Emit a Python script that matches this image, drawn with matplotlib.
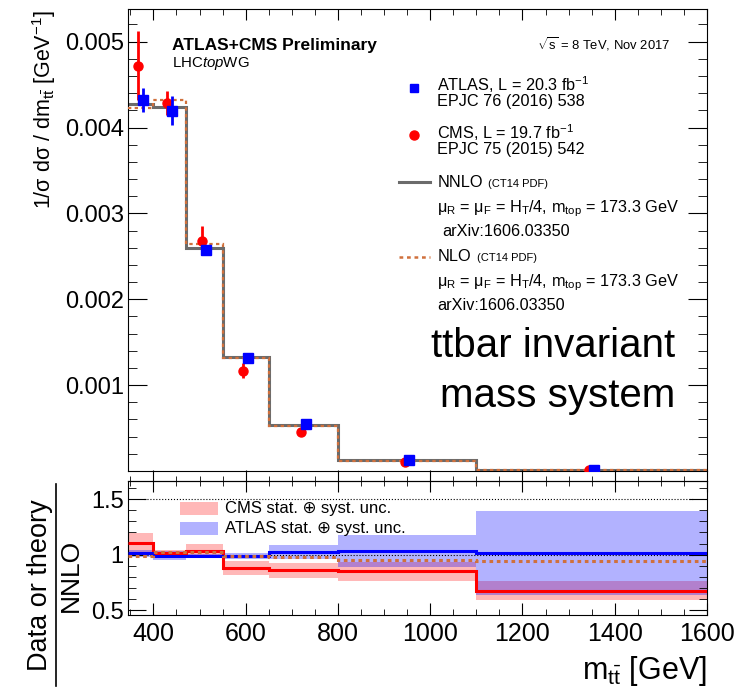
import matplotlib
matplotlib.use('Agg')
import matplotlib.pyplot as plt
import numpy as np
from matplotlib.ticker import MultipleLocator, FixedLocator
from matplotlib.lines import Line2D
from matplotlib.patches import Rectangle

plt.rcParams['font.family'] = ['Liberation Sans', 'DejaVu Sans']
plt.rcParams['mathtext.fontset'] = 'custom'
plt.rcParams['mathtext.rm'] = 'Liberation Sans'
plt.rcParams['mathtext.it'] = 'Liberation Sans:italic'
plt.rcParams['mathtext.bf'] = 'Liberation Sans:bold'
plt.rcParams['axes.linewidth'] = 0.8

# bin edges in m_tt [GeV]
edges = [345, 400, 470, 550, 650, 800, 1100, 1600]

# theory predictions, 1/sigma dsigma/dm [GeV^-1]
nnlo = np.array([4.27, 4.24, 2.595, 1.325, 0.533, 0.128, 0.012]) * 1e-3
nlo = np.array([4.23, 4.325, 2.647, 1.312, 0.522, 0.1222, 0.01135]) * 1e-3

# ATLAS data
atlas_x = [377.5, 440, 515, 605, 730, 955, 1355]
atlas = np.array([4.315, 4.198, 2.569, 1.312, 0.5437, 0.1318, 0.01218]) * 1e-3
atlas_err = np.array([0.14, 0.17, 0.052, 0.035, 0.0336, 0.0186, 0.0045]) * 1e-3

# CMS data
cms_x = [367.5, 430, 505, 595, 720, 945, 1345]
cms = np.array([4.72, 4.29, 2.68, 1.166, 0.458, 0.1088, 0.00811]) * 1e-3
cms_err = np.array([0.40, 0.14, 0.17, 0.088, 0.036, 0.0109, 0.001]) * 1e-3

gray = '#6b6b6b'
orange = '#d0703c'

r_atlas = atlas / nnlo
r_atlas_err = atlas_err / nnlo
r_cms = cms / nnlo
r_cms_err = cms_err / nnlo
r_nlo = nlo / nnlo

fig = plt.figure(figsize=(7.5, 6.91), dpi=100)
ax1 = fig.add_axes([128/750, 1-471/691, 579/750, 462/691])
ax2 = fig.add_axes([128/750, 1-615/691, 579/750, 134/691])

# ---- top panel
ax1.stairs(nnlo, edges, baseline=None, color=gray, lw=2.2, zorder=2)
ax1.stairs(nlo, edges, baseline=None, color=orange, lw=1.6, ls=(0, (1.5, 1.5)), zorder=3)
ax1.errorbar(atlas_x, atlas, yerr=atlas_err, fmt='s', color='blue', ms=6.5,
             elinewidth=2, capsize=0, zorder=5)
ax1.errorbar(cms_x, cms, yerr=cms_err, fmt='o', color='red', ms=6.5,
             elinewidth=2, capsize=0, zorder=4)

ax1.set_xlim(345, 1600)
ax1.set_ylim(0, 0.00538)
ax1.xaxis.set_major_locator(MultipleLocator(200))
ax1.xaxis.set_minor_locator(MultipleLocator(50))
ax1.yaxis.set_major_locator(FixedLocator([0.001, 0.002, 0.003, 0.004, 0.005]))
ax1.yaxis.set_minor_locator(MultipleLocator(0.0002))
ax1.set_yticklabels(['0.001', '0.002', '0.003', '0.004', '0.005'])
ax1.tick_params(axis='x', which='both', direction='in', top=True, bottom=False,
                labelbottom=False)
ax1.tick_params(axis='x', which='major', length=8)
ax1.tick_params(axis='x', which='minor', length=4.5)
ax1.tick_params(axis='y', which='both', direction='in', left=True, right=True,
                labelsize=17, pad=3)
ax1.tick_params(axis='y', which='major', length=14)
ax1.tick_params(axis='y', which='minor', length=6.5)

T = ax1.transAxes
ax1.text(0.076, 0.9113, 'ATLAS+CMS Preliminary', transform=T, fontsize=12.5,
         fontweight='bold', va='baseline')
ax1.text(0.076, 0.8751, r'LHC$\it{top}$WG', transform=T, fontsize=10.8, va='baseline')
ax1.text(0.936, 0.9128, r'$\sqrt{\mathrm{s}}$ = 8 TeV, Nov 2017', transform=T,
         fontsize=9.4, ha='right', va='baseline')

fs = 11.7
tx = 0.534
ax1.plot([0.4945], [0.8297], 's', color='blue', ms=6, transform=T)
ax1.text(tx, 0.8225, r'ATLAS, L = 20.3 fb$^{-1}$', transform=T, fontsize=fs, va='baseline')
ax1.text(tx, 0.7890, 'EPJC 76 (2016) 538', transform=T, fontsize=fs, va='baseline')
ax1.plot([0.4945], [0.7273], 'o', color='red', ms=6.5, transform=T)
ax1.text(tx, 0.7195, r'CMS, L = 19.7 fb$^{-1}$', transform=T, fontsize=fs, va='baseline')
ax1.text(tx, 0.6851, 'EPJC 75 (2015) 542', transform=T, fontsize=fs, va='baseline')
ax1.plot([0.468, 0.5216], [0.6262, 0.6262], color=gray, lw=2.2, transform=T)
ax1.text(tx, 0.6154, 'NNLO', transform=T, fontsize=fs, va='baseline')
ax1.text(0.622, 0.6154, '(CT14 PDF)', transform=T, fontsize=8, va='baseline')
mu = r'μ$_\mathrm{R}$ = μ$_\mathrm{F}$ = H$_\mathrm{T}$/4, m$_\mathrm{top}$ = 173.3 GeV'
ax1.text(tx, 0.5591, mu, transform=T, fontsize=fs, va='baseline')
ax1.text(0.5428, 0.5087, 'arXiv:1606.03350', transform=T, fontsize=fs, va='baseline')
ax1.plot([0.468, 0.5216], [0.4639, 0.4639], color=orange, lw=1.8,
         ls=(0, (1.5, 1.5)), transform=T)
ax1.text(tx, 0.4552, 'NLO', transform=T, fontsize=fs, va='baseline')
ax1.text(0.6033, 0.4552, '(CT14 PDF)', transform=T, fontsize=8, va='baseline')
ax1.text(tx, 0.3989, mu, transform=T, fontsize=fs, va='baseline')
ax1.text(tx, 0.3485, 'arXiv:1606.03350', transform=T, fontsize=fs, va='baseline')

ax1.text(0.9447, 0.2461, 'ttbar invariant', transform=T, fontsize=29,
         ha='right', va='baseline')
ax1.text(0.9447, 0.1379, 'mass system', transform=T, fontsize=29,
         ha='right', va='baseline')

# ---- ratio panel
ax2.stairs(r_cms + r_cms_err, edges, baseline=r_cms - r_cms_err, fill=True,
           color='red', alpha=0.28, lw=0, zorder=1)
ax2.stairs(r_atlas + r_atlas_err, edges, baseline=r_atlas - r_atlas_err, fill=True,
           color='blue', alpha=0.3, lw=0, zorder=1)
ax2.hlines([1.0, 1.5], 380, 1570, colors='k', linestyles=':', lw=0.8, zorder=2)
ax2.stairs(r_cms, edges, baseline=None, color='red', lw=2.2, zorder=3)
ax2.stairs(r_atlas, edges, baseline=None, color='blue', lw=2.2, zorder=4)
ax2.stairs(r_nlo, edges, baseline=None, color=orange, lw=2.2,
           ls=(0, (1.2, 1.2)), zorder=5)

ax2.set_xlim(345, 1600)
ax2.set_ylim(0.455, 1.665)
ax2.xaxis.set_major_locator(MultipleLocator(200))
ax2.xaxis.set_minor_locator(MultipleLocator(50))
ax2.yaxis.set_major_locator(FixedLocator([0.5, 1.0, 1.5]))
ax2.yaxis.set_minor_locator(MultipleLocator(0.1))
ax2.set_yticklabels(['0.5', '1', '1.5'])
ax2.tick_params(axis='x', which='both', direction='in', top=False, bottom=True,
                labelsize=18, pad=5)
ax2.tick_params(axis='x', which='major', length=9)
ax2.tick_params(axis='x', which='minor', length=4)
ax2.tick_params(axis='y', which='both', direction='in', left=True, right=True,
                labelsize=17, pad=3)
ax2.tick_params(axis='y', which='major', length=13)
ax2.tick_params(axis='y', which='minor', length=6)
sec = ax2.secondary_xaxis('top')
sec.xaxis.set_major_locator(MultipleLocator(200))
sec.xaxis.set_minor_locator(MultipleLocator(50))
sec.tick_params(which='both', direction='inout', labeltop=False)
sec.tick_params(which='major', length=16)
sec.tick_params(which='minor', length=7)

T2 = ax2.transAxes
ax2.add_patch(Rectangle((0.0898, 0.746), 0.0656, 0.0995, transform=T2,
                        facecolor='red', alpha=0.28, lw=0))
ax2.add_patch(Rectangle((0.0898, 0.597), 0.0656, 0.0995, transform=T2,
                        facecolor='blue', alpha=0.3, lw=0))
ax2.text(0.167, 0.759, 'CMS stat. ⊕ syst. unc.', transform=T2, fontsize=12, va='baseline')
ax2.text(0.167, 0.61, 'ATLAS stat. ⊕ syst. unc.', transform=T2, fontsize=12, va='baseline')

# axis titles
fig.text(44/750, 1-10/691, r'1/σ dσ / d$\mathrm{m}_{\mathrm{t\bar{t}}}$ [GeV$^{-1}$]',
         rotation=90, ha='center', va='top', fontsize=15.5)
fig.text(40/750, 1-585/691, 'Data or theory', rotation=90, ha='center',
         va='center', fontsize=19.5)
fig.add_artist(Line2D([56/750, 56/750], [1-686/691, 1-484/691], color='k', lw=1.2))
fig.text(71/750, 1-575/691, 'NNLO', rotation=90, ha='center', va='center', fontsize=19)
fig.text(707/750, 1-679/691, r'm$_{\mathrm{t\bar{t}}}$ [GeV]', ha='right',
         va='baseline', fontsize=22)

fig.savefig('out.png', dpi=100)
